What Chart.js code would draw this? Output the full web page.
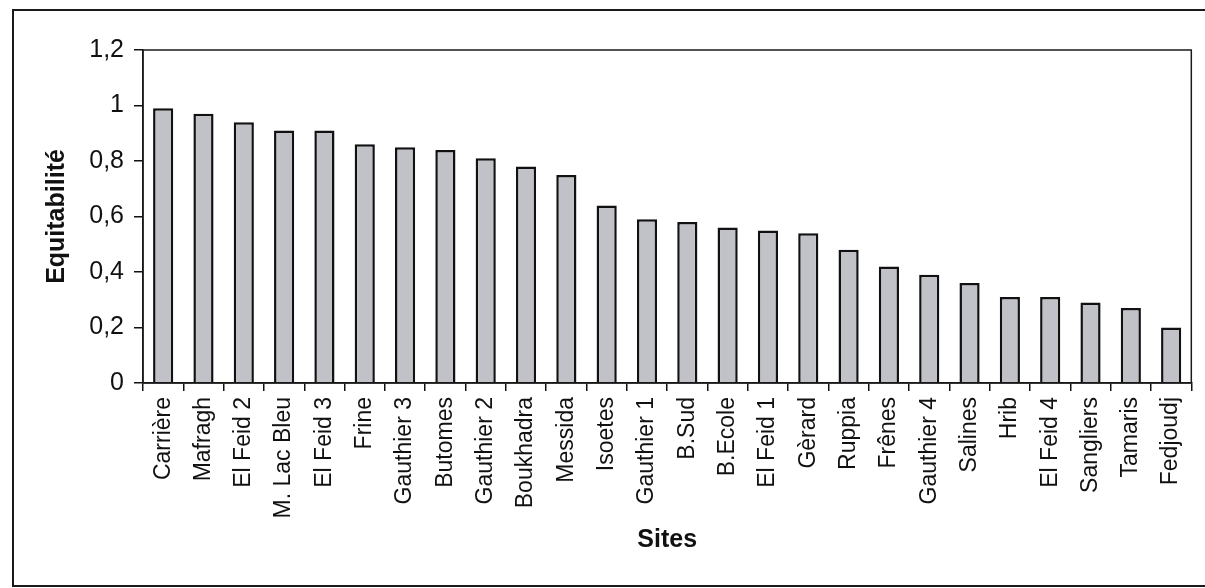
<!DOCTYPE html>
<html>
<head>
<meta charset="utf-8">
<script src="https://cdn.jsdelivr.net/npm/chart.js@4.4.1/dist/chart.umd.min.js"></script>
<style>
    body { margin: 0; background: #fff; overflow: hidden; }
    #frame {
        position: absolute; left: 12px; top: 9px;
        width: 1205px; height: 574px;
        border: 2px solid #1a1a1a;
    }
    #wrap { position: absolute; left: 0; top: 0; width: 1205px; height: 588px; }
</style>
</head>
<body>
<div id="frame"></div>
<div id="wrap"><canvas id="equitChart" width="1205" height="588"></canvas></div>
<script>
// Sites and evenness values
const sites = ['Carrière', 'Mafragh', 'El Feid 2', 'M. Lac Bleu', 'El Feid 3', 'Frine', 'Gauthier 3',
    'Butomes', 'Gauthier 2', 'Boukhadra', 'Messida', 'Isoetes', 'Gauthier 1', 'B.Sud', 'B.Ecole',
    'El Feid 1', 'Gèrard', 'Ruppia', 'Frênes', 'Gauthier 4', 'Salines', 'Hrib', 'El Feid 4',
    'Sangliers', 'Tamaris', 'Fedjoudj'];
const equitabilite = [0.99, 0.97, 0.94, 0.91, 0.91, 0.86, 0.85,
    0.84, 0.81, 0.78, 0.75, 0.64, 0.59, 0.58, 0.56,
    0.55, 0.54, 0.48, 0.42, 0.39, 0.36, 0.31, 0.31,
    0.29, 0.27, 0.20];
const yTicks = [0, 0.2, 0.4, 0.6, 0.8, 1, 1.2];

const FONT = "'Liberation Sans', Arial, sans-serif";

// plot area border (Excel style box)
const plotBorder = {
    id: 'plotBorder',
    afterDraw(chart) {
        const { ctx, chartArea: a } = chart;
        ctx.save();
        ctx.strokeStyle = '#1a1a1a';
        ctx.lineWidth = 1.5;
        ctx.strokeRect(a.left, a.top, a.right - a.left, a.bottom - a.top);
        ctx.restore();
    }
};

const ctx = document.getElementById('equitChart').getContext('2d');
new Chart(ctx, {
    type: 'bar',
    data: {
        labels: sites,
        datasets: [{
            label: 'Equitabilité',
            data: equitabilite,
            backgroundColor: '#c0c2c7',
            borderColor: '#111',
            borderWidth: 2.5,
            barPercentage: 0.5,
            categoryPercentage: 1
        }]
    },
    options: {
        responsive: false,
        animation: false,
        layout: { padding: { left: 30, top: 50, right: 13, bottom: 0 } },
        plugins: { legend: { display: false }, tooltip: { enabled: false } },
        scales: {
            y: {
                min: 0,
                max: 1.2,
                afterFit: (s) => { s.width = 113; },
                afterBuildTicks: (s) => { s.ticks = yTicks.map(v => ({ value: v })); },
                ticks: {
                    padding: 10,
                    color: '#111',
                    font: { family: FONT, size: 25 },
                    callback: (v) => String(Number(v.toFixed(1))).replace('.', ',')
                },
                grid: { drawOnChartArea: false, drawTicks: true, tickLength: 9, color: '#111', lineWidth: 1.5 },
                border: { display: true, color: '#111', width: 1.5 },
                title: {
                    display: true,
                    text: 'Equitabilité',
                    color: '#111',
                    font: { family: FONT, size: 25, weight: 'bold' },
                    padding: { top: 12, bottom: 0 }
                }
            },
            x: {
                afterFit: (s) => { s.height = 205; },
                ticks: {
                    autoSkip: false,
                    minRotation: 90,
                    maxRotation: 90,
                    padding: 6,
                    color: '#111',
                    font: { family: FONT, size: 23 }
                },
                grid: { offset: true, drawOnChartArea: false, drawTicks: true, tickLength: 8, color: '#111', lineWidth: 1.5 },
                border: { display: true, color: '#111', width: 1.5 },
                title: {
                    display: true,
                    text: 'Sites',
                    color: '#111',
                    font: { family: FONT, size: 25, weight: 'bold' },
                    padding: { top: 0, bottom: 33 }
                }
            }
        }
    },
    plugins: [plotBorder]
});
</script>
</body>
</html>
